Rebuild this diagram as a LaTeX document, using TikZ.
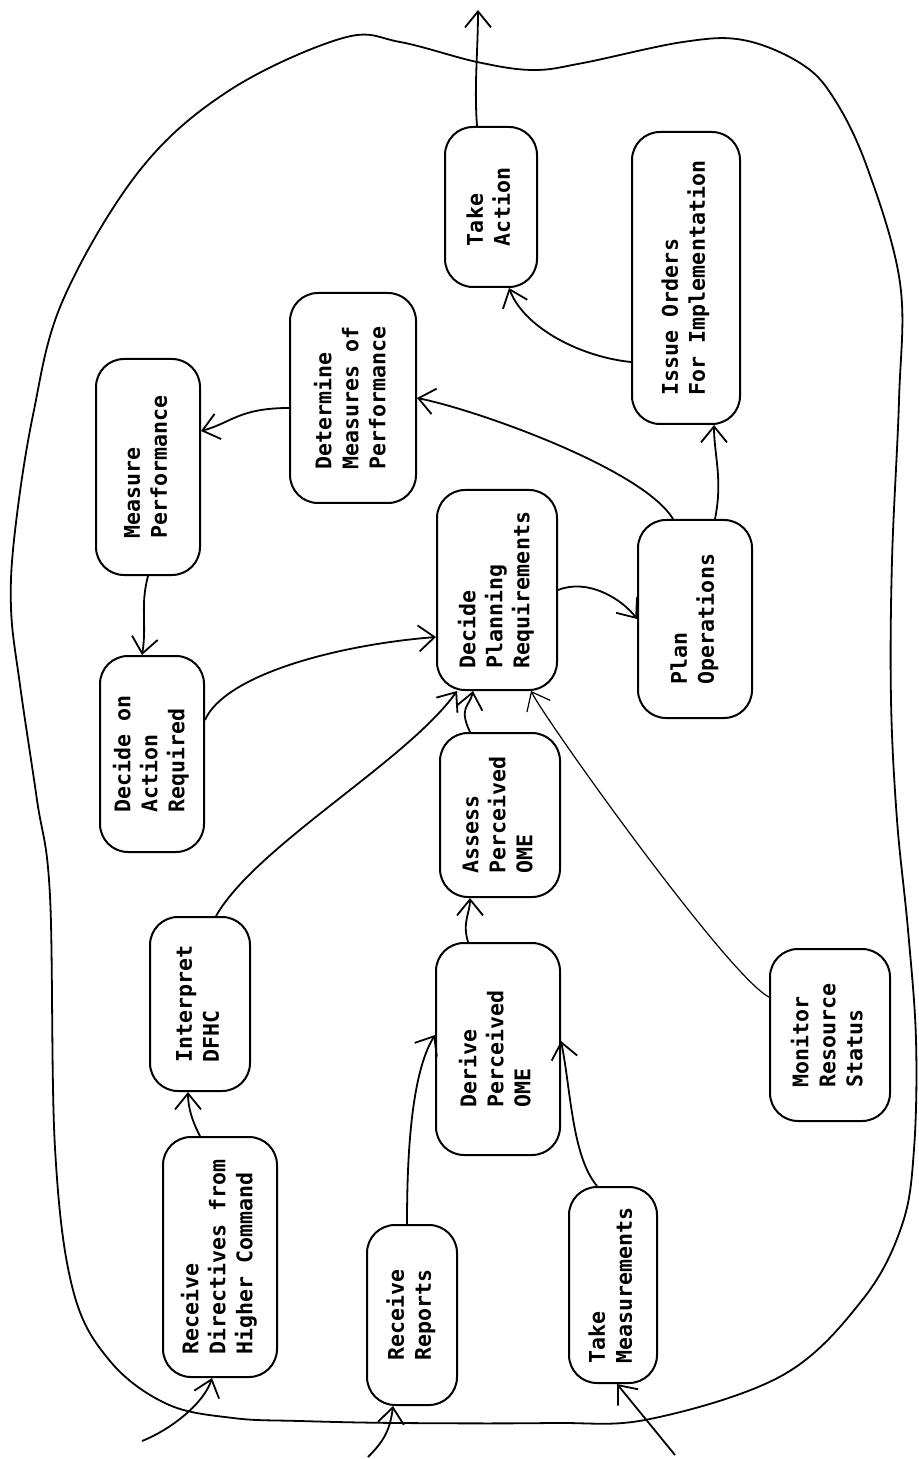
\documentclass[tikz,border=0pt]{standalone}
\usepackage{fontspec}
\newfontfamily\plotfont{DejaVu Sans Mono}
\usetikzlibrary{arrows.meta}
\newcommand{\vtext}[1]{\rotatebox{90}{\begin{tabular}{@{}l@{}}#1\end{tabular}}}
\tikzset{
  blob/.style={draw, rectangle, rounded corners=14pt, line width=1pt, inner sep=0pt,
    font=\plotfont\bfseries\fontsize{10.8}{13.5}\selectfont},
  flow/.style={line width=0.9pt, -{Straight Barb[length=8pt,width=13pt]}}
}
\begin{document}
\begin{tikzpicture}[x=0.5pt, y=-0.5pt]
  \useasboundingbox (0,0) rectangle (919,1459);
  % boundary of the system
  \draw[line width=0.9pt] plot[smooth cycle, tension=0.6] coordinates {
    (63,300) (140,170) (230,90) (343,38) (400,42) (477,62) (533,70) (583,63)
    (683,42) (743,40) (800,63) (833,97) (867,167) (900,283) (899,400) (892,560)
    (891,700) (897,820) (908,930) (916,1040) (914,1149) (902,1225) (863,1299)
    (783,1375) (650,1419) (550,1423) (400,1423) (300,1421) (233,1418) (167,1404)
    (110,1361) (73,1290) (55,1148) (50,896) (37,800) (20,685) (11,608) (15,531) (33,415)};

  \node[blob, minimum width=57pt, minimum height=120pt] (recvdir) at (220,1257) {\vtext{Receive\\Directives from\\Higher Command}};
  \node[blob, minimum width=50pt, minimum height=87pt] (interp) at (200,1004) {\vtext{Interpret\\DFHC}};
  \node[blob, minimum width=52pt, minimum height=98pt] (decact) at (152,754) {\vtext{Decide on\\Action\\Required}};
  \node[blob, minimum width=52pt, minimum height=108pt] (measperf) at (148,467) {\vtext{Measure\\Performance}};
  \node[blob, minimum width=63pt, minimum height=105pt] (detmop) at (353,398) {\vtext{Determine\\Measures of\\Performance}};
  \node[blob, minimum width=60pt, minimum height=100pt] (decplan) at (497,590) {\vtext{Decide\\Planning\\Requirements}};
  \node[blob, minimum width=57pt, minimum height=99pt] (planops) at (695,619) {\vtext{Plan\\Operations}};
  \node[blob, minimum width=54pt, minimum height=146pt] (issue) at (686,278) {\vtext{Issue Orders\\For Implementation}};
  \node[blob, minimum width=46pt, minimum height=80pt] (takeact) at (491,207) {\vtext{Take\\Action}};
  \node[blob, minimum width=60pt, minimum height=82pt] (assess) at (500,815) {\vtext{Assess\\Perceived\\OME}};
  \node[blob, minimum width=62pt, minimum height=106pt] (derive) at (498,1049) {\vtext{Derive\\Perceived\\OME}};
  \node[blob, minimum width=45pt, minimum height=90pt] (recvrep) at (412,1315) {\vtext{Receive\\Reports}};
  \node[blob, minimum width=44pt, minimum height=98pt] (takemeas) at (613,1285) {\vtext{Take\\Measurements}};
  \node[blob, minimum width=60pt, minimum height=86pt] (monitor) at (830,1035) {\vtext{Monitor\\Resource\\Status}};

  \coordinate (in1) at (142,1441);
  \coordinate (in2) at (368,1457);
  \coordinate (in3) at (675,1455);
  \coordinate (out) at (478,10);

  % inputs
  \draw[flow] (in1) .. controls +(30,-12) and +(-8,25) .. ([xshift=-4pt]recvdir.south);
  \draw[flow] (in2) .. controls +(15,-15) and +(-3,25) .. ([xshift=-9.5pt]recvrep.south);
  \draw[flow] (in3) -- ([xshift=2pt]takemeas.south);
  % inside
  \draw[flow] ([xshift=-10pt]recvdir.north) .. controls +(-8,-15) and +(0,15) .. ([xshift=-6pt]interp.south);
  \draw[flow] ([xshift=8pt]interp.north) .. controls +(40,-70) and +(-50,70) .. ([xshift=-20pt]decplan.south);
  \draw[flow] ([yshift=17pt]decact.east) .. controls +(20,-45) and +(-100,8) .. ([yshift=-23.5pt]decplan.west);
  \draw[flow] (measperf.south) .. controls +(-8,30) and +(5,-30) .. ([xshift=-5pt]decact.north);
  \draw[flow] ([yshift=-5pt]detmop.west) .. controls +(-50,0) and +(30,-8) .. ([yshift=18pt]measperf.east);
  \draw[flow] ([xshift=-11pt]planops.north) .. controls +(-30,-50) and +(60,12) .. (detmop.east);
  \draw[flow] ([xshift=10pt]planops.north) .. controls +(8,-40) and +(0,30) .. ([xshift=14pt]issue.south);
  \draw[flow] ([yshift=-42pt]issue.west) .. controls +(-50,-5) and +(15,40) .. ([xshift=9pt]takeact.south);
  \draw[flow] ([xshift=-7pt]takeact.north) .. controls +(-3,-40) and +(0,40) .. (out);
  \draw[flow] (decplan.east) .. controls +(30,-12) and +(-15,-20) .. (planops.west);
  \draw[flow] ([xshift=-15pt]assess.north) .. controls +(-12,-25) and +(-3,15) .. ([xshift=-12pt]decplan.south);
  \draw[flow] ([xshift=-15pt]derive.north) .. controls +(-6,-20) and +(0,15) .. ([xshift=-15pt]assess.south);
  \draw[flow] ([xshift=-2.5pt]recvrep.north) .. controls +(0,-60) and +(-25,40) .. ([yshift=7pt]derive.west);
  \draw[flow] ([xshift=-8pt]takemeas.north) .. controls +(-25,-30) and +(10,50) .. ([yshift=4pt]derive.east);
  \draw[flow, line width=0.6pt] ([yshift=19pt]monitor.west) .. controls +(-40,-20) and +(15,30) .. ([xshift=17pt]decplan.south);
\end{tikzpicture}
\end{document}
